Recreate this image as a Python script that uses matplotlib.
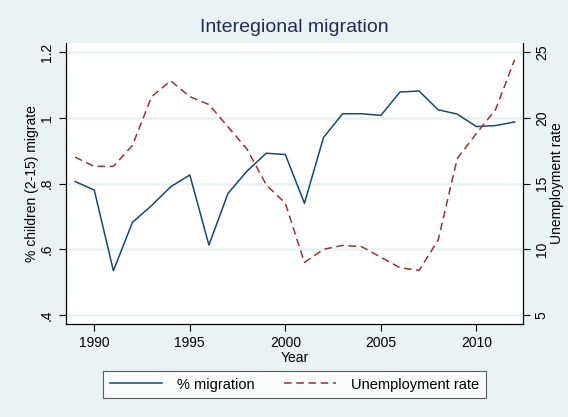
import matplotlib
matplotlib.use('Agg')
import matplotlib.pyplot as plt

plt.rcParams['font.family'] = ['Liberation Sans', 'DejaVu Sans']

years = list(range(1989, 2013))
migration = [0.806, 0.780, 0.535, 0.682, 0.733, 0.790, 0.826, 0.613, 0.770, 0.838,
             0.892, 0.888, 0.740, 0.940, 1.012, 1.012, 1.007, 1.078, 1.081, 1.024,
             1.011, 0.973, 0.976, 0.987]
unemployment = [17.0, 16.3, 16.3, 17.9, 21.6, 22.8, 21.6, 21.0, 19.3, 17.6,
                14.9, 13.5, 9.0, 10.0, 10.3, 10.2, 9.4, 8.6, 8.4, 10.7,
                16.9, 18.8, 20.6, 24.4]
left_ticks = [0.4, 0.6, 0.8, 1.0, 1.2]
left_labels = ['.4', '.6', '.8', '1', '1.2']
right_ticks = [5, 10, 15, 20, 25]
x_ticks = [1990, 1995, 2000, 2005, 2010]

bg = '#eaf2f3'
navy = '#1a476f'
maroon = '#90353b'

fig = plt.figure(figsize=(5.68, 4.17), dpi=100, facecolor=bg)
ax = fig.add_axes([66/568, 1 - 324/417, (523-66)/568, (324-43)/417])
ax.set_facecolor('white')

# light horizontal gridlines at left-axis ticks
for t in left_ticks:
    ax.axhline(t, color=bg, lw=1.8, zorder=0)

l1, = ax.plot(years, migration, color=navy, lw=1.1, label='% migration')
ax.set_xlim(1988.52, 2012.44)
ax.set_ylim(0.373, 1.227)
ax.set_yticks(left_ticks)
ax.set_yticklabels(left_labels, rotation=90, va='center')
ax.set_xticks(x_ticks)
ax.set_xlabel('Year', fontsize=10, labelpad=1)
ax.set_ylabel('% children (2-15) migrate', fontsize=10, labelpad=1)

ax2 = ax.twinx()
l2, = ax2.plot(years, unemployment, color=maroon, lw=1.1, ls=(0, (5, 3)), label='Unemployment rate')
ax2.set_ylim(5 + (0.373 - 0.4) * 25, 5 + (1.227 - 0.4) * 25)
ax2.set_yticks(right_ticks)
ax2.set_yticklabels([str(t) for t in right_ticks], rotation=90, va='center')
ax2.set_ylabel('Unemployment rate', fontsize=10, labelpad=1)

for a in (ax, ax2):
    a.spines['top'].set_visible(False)
    for s in a.spines.values():
        s.set_color('black')
        s.set_linewidth(0.8)
    a.tick_params(direction='out', length=5, width=0.8, labelsize=10, colors='black')

fig.text(294.5/568, 1 - 28/417, 'Interegional migration', ha='center', va='center',
         fontsize=14, color='#1e2d53')

leg = fig.legend(handles=[l1, l2], loc='center', ncol=2, bbox_to_anchor=(294.5/568, 1 - 384.5/417),
                 frameon=True, fancybox=False, edgecolor='#333333', facecolor='white',
                 fontsize=10.5, handlelength=3.6, handletextpad=1.0, columnspacing=2.0,
                 borderpad=0.45)
leg.get_frame().set_linewidth(0.8)

fig.savefig('out.png', dpi=100, facecolor=bg)
